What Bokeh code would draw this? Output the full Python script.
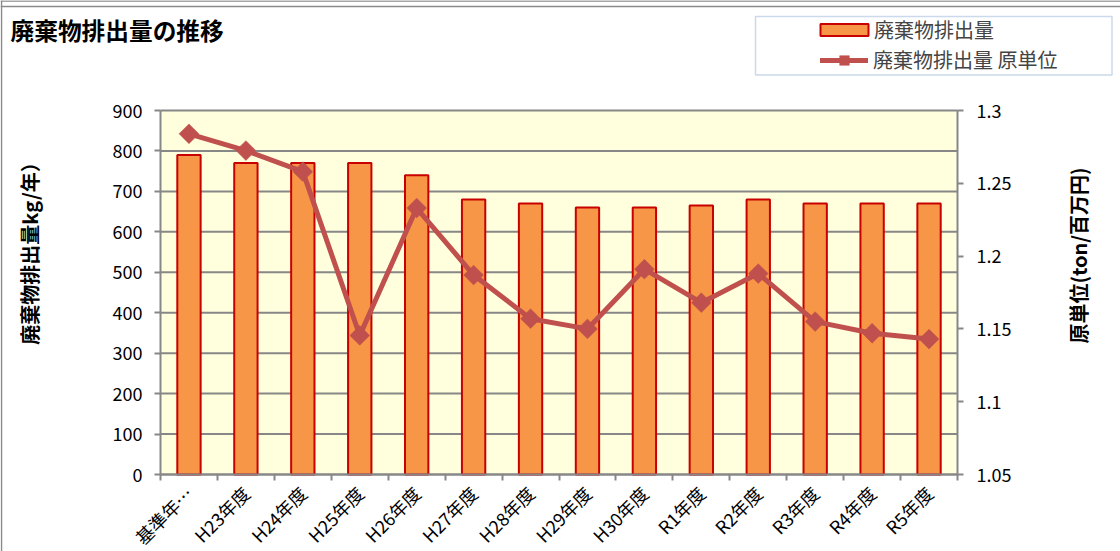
import math
from bokeh.plotting import figure
from bokeh.models import (Range1d, LinearAxis, FixedTicker, Label, LabelSet, Span,
                          ColumnDataSource, Legend, LegendItem, BoxAnnotation)
from bokeh.core.properties import value
from bokeh.embed import file_html
from bokeh.resources import INLINE

# ---- data ----
categories = ["基準年…", "H23年度", "H24年度", "H25年度", "H26年度", "H27年度", "H28年度",
              "H29年度", "H30年度", "R1年度", "R2年度", "R3年度", "R4年度", "R5年度"]
emissions = [790, 770, 770, 770, 740, 680, 670, 660, 660, 665, 680, 670, 670, 670]
intensity = [1.284, 1.2725, 1.258, 1.1455, 1.233, 1.187, 1.157, 1.150, 1.191,
             1.168, 1.188, 1.155, 1.147, 1.143]
left_ticks = [0, 100, 200, 300, 400, 500, 600, 700, 800, 900]
right_ticks = [1.05, 1.1, 1.15, 1.2, 1.25, 1.3]
right_tick_labels = ["1.05", "1.1", "1.15", "1.2", "1.25", "1.3"]

title_text = "廃棄物排出量の推移"
left_title = "廃棄物排出量kg/年）"
right_title = "原単位(ton/百万円)"
bar_label = "廃棄物排出量"
line_label = "廃棄物排出量 原単位"

# ---- style / layout ----
FONT = "Noto Sans CJK JP"
GRAY = "#878787"
BAR_FILL = "#F79646"
BAR_LINE = "#C80000"
LINE_COL = "#C0504D"
PLOT_BG = "#FFFFDD"

W, H = 1120, 551
PL, PR, PT, PB = 160, 957, 110, 474   # plot-area box in canvas pixels

n = len(categories)
xs = [i + 0.5 for i in range(n)]
bounds = list(range(n + 1))
src = ColumnDataSource(dict(x=xs, cat=categories, em=emissions, it=intensity))

# ranges chosen so that the plot area lands on the pixel box above
kx = (PR - PL) / n
x_range = Range1d(-PL / kx, n + (W - PR) / kx)
ky = (PB - PT) / (left_ticks[-1] - left_ticks[0])
y_range = Range1d(left_ticks[0] - (H - PB) / ky, left_ticks[-1] + PT / ky)
kr = (PB - PT) / (right_ticks[-1] - right_ticks[0])
r_range = Range1d(right_ticks[0] - (H - PB) / kr, right_ticks[-1] + PT / kr)

p = figure(width=W, height=H, output_backend="svg", toolbar_location=None,
           x_range=x_range, y_range=y_range, x_axis_type=None, y_axis_type=None,
           min_border=0, min_border_left=0, min_border_right=0,
           min_border_top=0, min_border_bottom=0)
p.extra_y_ranges = {"r": r_range}
p.background_fill_color = "white"
p.border_fill_color = "white"
p.outline_line_color = None
p.xgrid.visible = False
p.ygrid.visible = False

# chart frame lines
p.add_layout(Span(location=H - 0.5, dimension="width", location_units="screen",
                  line_color="#8A8A8A", line_width=1.5))
p.add_layout(Span(location=H - 6, dimension="width", location_units="screen",
                  line_color="#8A8A8A", line_width=1.5))
p.add_layout(Span(location=1, dimension="height", location_units="screen",
                  line_color="#8A8A8A", line_width=1.5))

# plot area background
p.add_layout(BoxAnnotation(left=0, right=n, bottom=left_ticks[0], top=left_ticks[-1],
                           fill_color=PLOT_BG, fill_alpha=1, line_alpha=0,
                           level="underlay"))

# horizontal grid lines across the plot area
p.segment(x0=[0] * len(left_ticks), x1=[n] * len(left_ticks),
          y0=left_ticks, y1=left_ticks, line_color=GRAY, line_width=2)

# axes
xaxis = LinearAxis(fixed_location=left_ticks[0], bounds=(0, n),
                   ticker=FixedTicker(ticks=[], minor_ticks=bounds),
                   axis_line_color=GRAY, axis_line_width=2,
                   major_tick_out=0, major_tick_in=0,
                   minor_tick_out=6, minor_tick_in=0,
                   minor_tick_line_color=GRAY, minor_tick_line_width=2,
                   major_label_standoff=0)
p.add_layout(xaxis, "below")

yaxis = LinearAxis(fixed_location=0, bounds=(left_ticks[0], left_ticks[-1]),
                   ticker=FixedTicker(ticks=left_ticks, minor_ticks=[]),
                   axis_line_color=GRAY, axis_line_width=2,
                   major_tick_out=6, major_tick_in=0,
                   major_tick_line_color=GRAY, major_tick_line_width=2,
                   minor_tick_out=0, minor_tick_in=0,
                   major_label_standoff=12,
                   major_label_text_font=FONT, major_label_text_font_size="18px",
                   major_label_text_color="black")
p.add_layout(yaxis, "left")

raxis = LinearAxis(y_range_name="r", fixed_location=n,
                   bounds=(right_ticks[0], right_ticks[-1]),
                   ticker=FixedTicker(ticks=right_ticks, minor_ticks=[]),
                   major_label_overrides=dict(zip(right_ticks, right_tick_labels)),
                   axis_line_color=GRAY, axis_line_width=2,
                   major_tick_out=6, major_tick_in=0,
                   major_tick_line_color=GRAY, major_tick_line_width=2,
                   minor_tick_out=0, minor_tick_in=0,
                   major_label_standoff=13,
                   major_label_text_font=FONT, major_label_text_font_size="18px",
                   major_label_text_color="black")
p.add_layout(raxis, "right")

# data glyphs
bars = p.vbar(x="x", top="em", bottom=0, width=0.41, source=src,
              fill_color=BAR_FILL, line_color=BAR_LINE, line_width=2)
line_r = p.line(x="x", y="it", source=src, y_range_name="r",
                line_color=LINE_COL, line_width=5, line_cap="round", line_join="round")
pts = p.scatter(x="x", y="it", source=src, y_range_name="r", marker="square",
                size=14, angle=math.pi / 4, fill_color=LINE_COL, line_color=LINE_COL,
                line_width=0.5)

# category labels under the axis (rotated 45 degrees, ending at the category centre)
p.add_layout(LabelSet(x="x", y=H - 489, y_units="screen", text="cat", source=src,
                      angle=math.pi / 4, text_align="right", text_baseline="middle",
                      text_font=value(FONT), text_font_size="18px", text_color="black"))

# titles
p.add_layout(Label(x=10, y=H - 29, x_units="screen", y_units="screen", text=title_text,
                   text_font=FONT, text_font_size="23.7px", text_font_style="bold",
                   text_align="left", text_baseline="middle", text_color="black"))
p.add_layout(Label(x=29, y=H - 248, x_units="screen", y_units="screen", text=left_title,
                   angle=math.pi / 2, text_font=FONT, text_font_size="20px",
                   text_font_style="bold", text_align="center", text_baseline="middle",
                   text_color="black"))
p.add_layout(Label(x=1078, y=H - 255, x_units="screen", y_units="screen", text=right_title,
                   angle=math.pi / 2, text_font=FONT, text_font_size="20px",
                   text_font_style="bold", text_align="center", text_baseline="middle",
                   text_color="black"))

# legend
p.add_layout(BoxAnnotation(left=755, right=1111.5, top=H - 16, bottom=H - 74.5,
                           left_units="screen", right_units="screen",
                           top_units="screen", bottom_units="screen",
                           fill_alpha=0, line_color="#4F81BD", line_width=1.5))
leg1 = Legend(items=[LegendItem(label=bar_label, renderers=[bars])],
              location=(814, H - 44), glyph_width=60, glyph_height=15, label_height=26,
              padding=0, spacing=0, margin=0, label_standoff=0,
              border_line_alpha=0, background_fill_alpha=0,
              label_text_font=FONT, label_text_font_size="20px")
leg2 = Legend(items=[LegendItem(label=line_label, renderers=[line_r, pts])],
              location=(820, H - 74), glyph_width=48, glyph_height=24, label_height=26,
              padding=0, spacing=0, margin=0, label_standoff=5,
              border_line_alpha=0, background_fill_alpha=0,
              label_text_font=FONT, label_text_font_size="20px")
p.add_layout(leg1)
p.add_layout(leg2)

open("out.html", "w").write(file_html(p, INLINE))
